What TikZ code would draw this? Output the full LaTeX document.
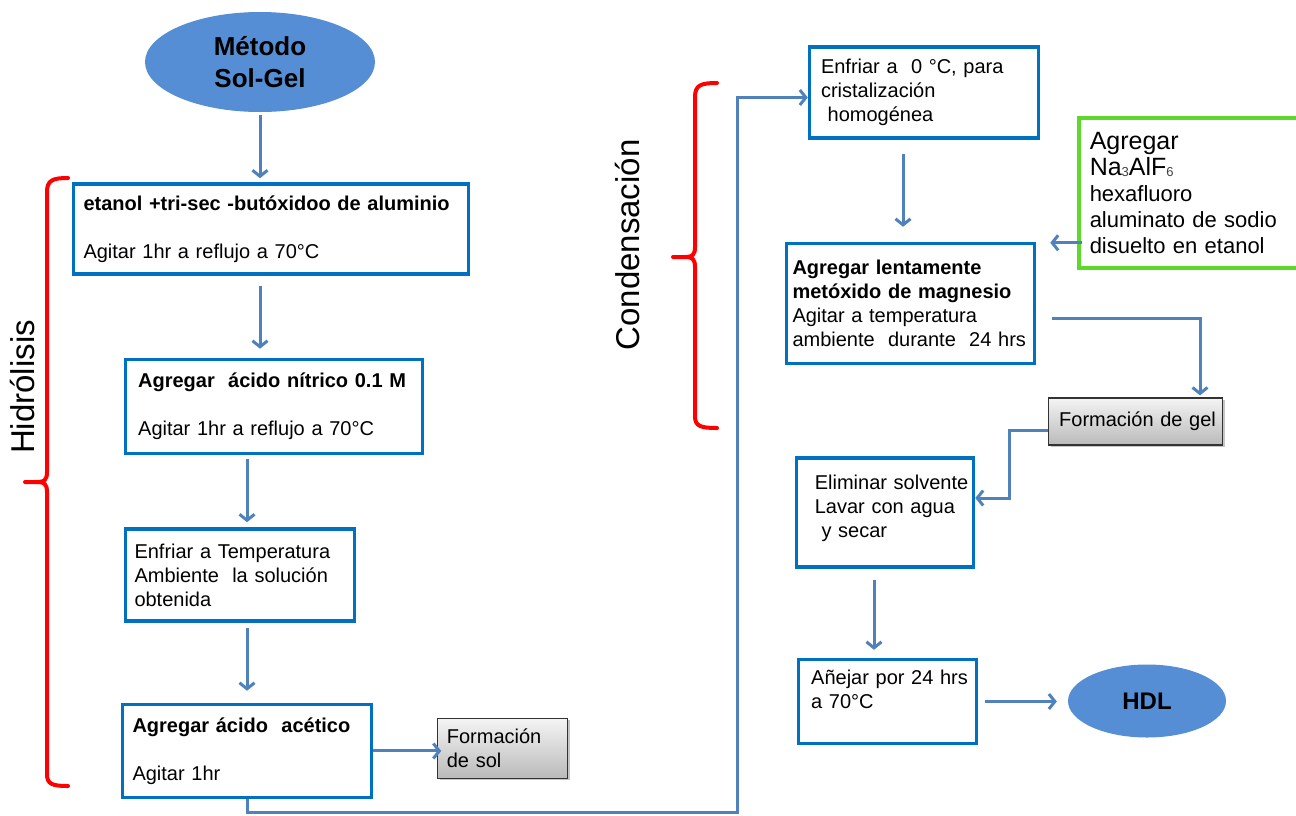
\documentclass[tikz,border=0pt]{standalone}
\usepackage{fontspec}
\setmainfont{Liberation Sans}
\usepackage{xcolor}
\definecolor{solBorde}{HTML}{0070C0}
\definecolor{solFlecha}{HTML}{4F81BD}
\definecolor{solElipse}{HTML}{558ED5}
\definecolor{solVerde}{HTML}{5CD92B}
\definecolor{solGrisA}{HTML}{F4F4F4}
\definecolor{solGrisB}{HTML}{BABABA}
\definecolor{solLlave}{HTML}{FF0000}
\usetikzlibrary{arrows.meta,positioning,shadows,shapes.geometric}
\newcommand{\tam}[2]{\fontsize{#1}{#2}\selectfont}
\tikzset{
    paso/.style={
        draw=solBorde,
        fill=white,
        rectangle,
        line width=3.5pt,
        align=left,
        inner xsep=10pt,
        font=\tam{20}{24}
    },
    agregado/.style={
        draw=solVerde,
        fill=white,
        rectangle,
        line width=3.5pt,
        align=left,
        inner xsep=11pt,
        font=\tam{22}{26}
    },
    producto/.style={
        draw=black!80,
        rectangle,
        line width=1.2pt,
        top color=solGrisA,
        bottom color=solGrisB,
        align=left,
        inner xsep=9pt,
        drop shadow={opacity=0.45, shadow xshift=2pt, shadow yshift=-2pt},
        font=\tam{20}{24}
    },
    inicio/.style={
        fill=solElipse,
        ellipse,
        inner sep=0pt,
        align=center,
        font=\bfseries\tam{26}{32}
    },
    etapa/.style={
        font=\tam{33}{36},
        inner sep=0pt
    },
    llave/.style={
        draw=solLlave,
        line width=4pt,
        line cap=round
    },
    linea/.style={
        draw=solFlecha,
        line width=3pt
    },
    flecha/.style={
        linea,
        -{Straight Barb[length=6pt,width=15pt]}
    }
}
\begin{document}
\begin{tikzpicture}[x=1pt, y=-1pt]
    \useasboundingbox (0,0) rectangle (1296,815);

    % Hidrolisis column
    \node[inicio, minimum width=230pt, minimum height=100pt] (metodo) at (260,62) {Método\\Sol-Gel};
    \node[paso, text width=375pt, minimum height=90pt, below=70pt of metodo, xshift=11pt] (etanol)
        {\textbf{etanol +tri-sec -butóxidoo de aluminio}\\[24pt]Agitar 1hr a reflujo a 70°C};
    \node[paso, text width=285pt, minimum height=94pt, inner xsep=6pt, below=82pt of etanol, xshift=3pt] (nitrico)
        {\ \textbf{Agregar\ \ ácido nítrico 0.1\ M}\\[24pt]\ Agitar 1hr a reflujo a 70°C};
    \node[paso, text width=211pt, minimum height=92pt, inner xsep=9pt, below=72pt of nitrico, xshift=-34pt] (enfriarT)
        {Enfriar a Temperatura\\Ambiente\ \ la solución\\obtenida};
    \node[paso, text width=229pt, minimum height=93pt, below=80pt of enfriarT, xshift=7pt] (acetico)
        {\textbf{Agregar ácido\ \ acético}\\[24pt]Agitar 1hr};
    \node[producto, text width=112pt, minimum height=60pt, right=64pt of acetico, yshift=2.5pt] (sol)
        {Formación\\de sol};

    % Condensacion column
    \node[paso, text width=206pt, minimum height=91pt, inner xsep=11.5pt] (enfriar0) at (924,92.5)
        {Enfriar a\ \ 0 °C, para\\cristalización\\\ homogénea};
    \node[paso, text width=236pt, minimum height=120pt, inner xsep=6pt, below=102pt of enfriar0, xshift=-13.5pt] (lentamente)
        {\textbf{Agregar lentamente}\\\textbf{metóxido de magnesio}\\Agitar a temperatura\\ambiente\ \ durante\ \ 24 hrs};
    \node[agregado, text width=215pt, minimum height=150pt, anchor=north west] (na) at (1077,116)
        {{\tam{25}{31}Agregar}\\{\tam{25}{28}Na\raisebox{-1pt}{\tam{13}{13}\color{darkgray}3}AlF\raisebox{-1pt}{\tam{13}{13}\color{darkgray}6}}\\hexafluoro\\aluminato de sodio\\disuelto en etanol};
    \node[producto, text width=166pt, minimum height=47pt, inner xsep=4pt] (gel) at (1135.5,421.5) {\ Formación de gel};
    \node[paso, text width=167pt, minimum height=109pt, inner xsep=5pt] (eliminar) at (885,512.5)
        {\ \ Eliminar solvente\\\ \ Lavar con agua\\\ \ \ y secar\\[-12pt]\mbox{}};
    \node[paso, text width=166pt, minimum height=84pt, inner xsep=6pt, below=89pt of eliminar, xshift=2.5pt] (anejar)
        {\ Añejar por 24 hrs\\\ a 70°C\\\mbox{}};
    \node[inicio, minimum width=158pt, minimum height=73pt, font=\bfseries\tam{24}{28}] (hdl) at (1147,701) {HDL};

    % Stage braces
    \draw[llave] (68,178) .. controls (53,178) and (47,180) .. (47,192) -- (47,472)
        .. controls (47,480) and (44,482) .. (38,482) -- (25,482);
    \draw[llave] (38,482) .. controls (44,482) and (47,484) .. (47,492) -- (47,774)
        .. controls (47,784) and (52,786) .. (68,786);
    \draw[llave] (717,83) .. controls (701,83) and (695,85) .. (695,97) -- (695,247)
        .. controls (695,255) and (692,257) .. (686,257) -- (673,257);
    \draw[llave] (686,257) .. controls (692,257) and (695,259) .. (695,267) -- (695,416)
        .. controls (695,426) and (700,428) .. (717,428);
    \node[etapa, rotate=90] (hidro) at (23,387) {Hidrólisis};
    \node[etapa, rotate=90] (conden) at (628,245) {Condensación};

    % Connections
    \draw[flecha, shorten <=3pt, shorten >=4pt] (metodo.south) -- (metodo.south |- etanol.north);
    \draw[flecha, shorten <=10pt, shorten >=9pt] (etanol.south -| metodo.south) -- (nitrico.north -| metodo.south);
    \draw[flecha, shorten <=4pt, shorten >=5pt] (nitrico.south -| acetico.north) -- (enfriarT.north -| acetico.north);
    \draw[flecha, shorten <=5pt, shorten >=12pt] (enfriarT.south -| acetico.north) -- (acetico.north);
    \draw[flecha, shorten >=-4pt] (acetico.east) -- (acetico.east -| sol.west);
    \coordinate (retorno) at (737,812);
    \draw[flecha] (acetico.south) |- (retorno) |- ([yshift=-5pt]enfriar0.west);
    \draw[flecha, shorten <=14pt, shorten >=15pt] ([xshift=-21pt]enfriar0.south) -- ([xshift=-21pt]enfriar0.south |- lentamente.north);
    \draw[flecha, shorten <=-5pt, shorten >=14pt] ([yshift=-50pt]na.west) -- ([yshift=-50pt]na.west -| lentamente.east);
    \draw[flecha, shorten <=16pt, shorten >=2pt] ([yshift=-15pt]lentamente.east) -| ([xshift=64.5pt]gel.north);
    \draw[flecha] ([yshift=-8.5pt]gel.west) -- ++(-38,0) |- ([yshift=14.5pt]eliminar.east);
    \draw[flecha, shorten <=11pt, shorten >=8pt] ([xshift=-11pt]eliminar.south) -- ([xshift=-11pt]eliminar.south |- anejar.north);
    \draw[flecha, shorten <=7pt, shorten >=11pt] (anejar.east) -- (anejar.east -| hdl.west);
\end{tikzpicture}
\end{document}
